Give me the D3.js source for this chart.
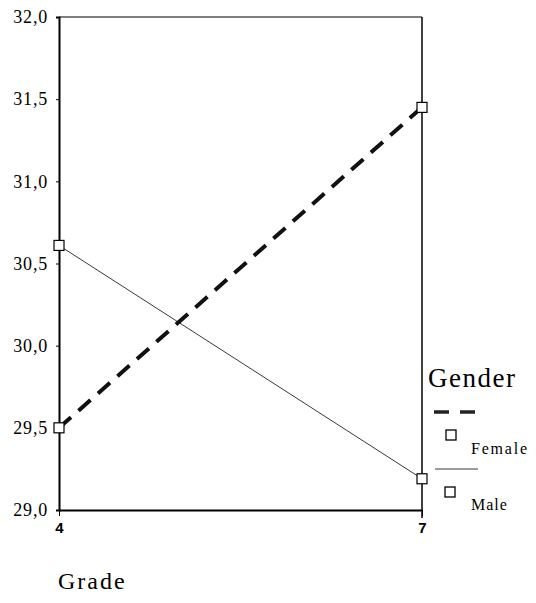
<!DOCTYPE html>
<html><head><meta charset="utf-8">
<script src="https://cdn.jsdelivr.net/npm/d3@7"></script>
<style>body{margin:0;background:#fff}svg{display:block}</style>
</head><body>
<script>
const grades = [4, 7];
const femaleValues = [29.50, 31.45];
const maleValues = [30.61, 29.19];
const yTicks = [29.0, 29.5, 30.0, 30.5, 31.0, 31.5, 32.0];
const seriesNames = ["Female", "Male"];

const W = 536, H = 603;
const m = {left: 59, right: 114, top: 17, bottom: 93};
const svg = d3.select("body").append("svg").attr("width", W).attr("height", H);
const x = d3.scaleLinear().domain([4, 7]).range([m.left, W - m.right]);
const y = d3.scaleLinear().domain([29, 32]).range([H - m.bottom, m.top]);

// frame
svg.append("line").attr("x1", x(4)).attr("x2", x(7)).attr("y1", y(32)).attr("y2", y(32)).attr("stroke", "#000").attr("stroke-width", 1.2);
svg.append("line").attr("x1", x(7)).attr("x2", x(7)).attr("y1", y(32)).attr("y2", y(29) + 8).attr("stroke", "#000").attr("stroke-width", 1.5);

const serif = "Liberation Serif, Times New Roman, serif";
const fmt = d => d.toFixed(1).replace(".", ",");
const yAxis = svg.append("g").attr("transform", `translate(${m.left},0)`)
  .call(d3.axisLeft(y).tickValues(yTicks).tickFormat(fmt).tickSize(3).tickPadding(8));
yAxis.select(".domain").attr("stroke-width", 2);
yAxis.selectAll("text").attr("font-family", serif).attr("font-size", 18).attr("letter-spacing", 0.8).attr("fill", "#000");

const xAxis = svg.append("g").attr("transform", `translate(0,${y(29)})`)
  .call(d3.axisBottom(x).tickValues(grades).tickFormat(d3.format("d")).tickSize(6).tickSizeOuter(0).tickPadding(6));
xAxis.select(".domain").attr("stroke-width", 2);
xAxis.selectAll("text").attr("font-family", "Liberation Sans, Arial, sans-serif").attr("font-size", 15).attr("font-weight", "bold").attr("fill", "#000");

const line = d3.line().x((d, i) => x(grades[i])).y(d => y(d));
svg.append("path").datum(maleValues).attr("d", line).attr("fill", "none").attr("stroke", "#222").attr("stroke-width", 0.9);
svg.append("path").datum(femaleValues).attr("d", line).attr("fill", "none").attr("stroke", "#111").attr("stroke-width", 4).attr("stroke-dasharray", "16,10");

const sq = 10;
[femaleValues, maleValues].forEach(vals => {
  svg.selectAll(null).data(vals).enter().append("rect")
    .attr("x", (d, i) => x(grades[i]) - sq / 2).attr("y", d => y(d) - sq / 2)
    .attr("width", sq).attr("height", sq).attr("fill", "#fff").attr("stroke", "#000").attr("stroke-width", 1.2);
});

// legend
svg.append("text").attr("x", 428).attr("y", 387).text("Gender").attr("font-family", serif).attr("font-size", 27).attr("letter-spacing", 1.5);
svg.append("line").attr("x1", 434).attr("x2", 478).attr("y1", 412).attr("y2", 412).attr("stroke", "#222").attr("stroke-width", 3.5).attr("stroke-dasharray", "15,11");
svg.append("rect").attr("x", 446).attr("y", 430).attr("width", sq).attr("height", sq).attr("fill", "#fff").attr("stroke", "#000").attr("stroke-width", 1.3);
svg.append("text").attr("x", 471).attr("y", 454).text(seriesNames[0]).attr("font-family", serif).attr("font-size", 16).attr("letter-spacing", 1.8);
svg.append("line").attr("x1", 435).attr("x2", 478).attr("y1", 469).attr("y2", 469).attr("stroke", "#222").attr("stroke-width", 0.9);
svg.append("rect").attr("x", 445).attr("y", 487).attr("width", sq).attr("height", sq).attr("fill", "#fff").attr("stroke", "#000").attr("stroke-width", 1.3);
svg.append("text").attr("x", 471).attr("y", 510).text(seriesNames[1]).attr("font-family", serif).attr("font-size", 16).attr("letter-spacing", 1);

svg.append("text").attr("x", 58).attr("y", 589).text("Grade").attr("font-family", serif).attr("font-size", 24).attr("letter-spacing", 2);
</script>
</body></html>
